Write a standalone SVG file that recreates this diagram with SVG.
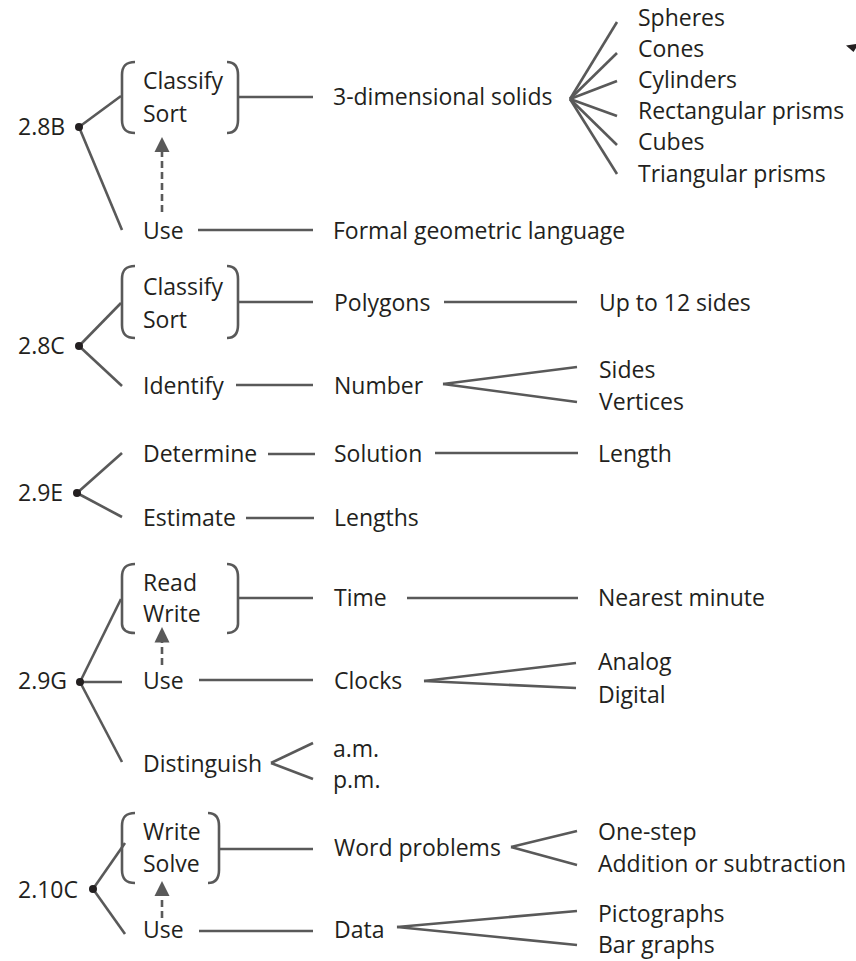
<svg xmlns="http://www.w3.org/2000/svg" width="856" height="961" viewBox="0 0 856 961">
<defs>
<style>
text{font-family:"Open Sans","Liberation Sans",sans-serif;font-size:23px;fill:#231f20}
.ln{stroke:#595959;stroke-width:2.6;fill:none}
.br{stroke:#595959;stroke-width:2.6;fill:none}
.dash{stroke:#595959;stroke-width:2.6;fill:none;stroke-dasharray:7,4}
.dot{fill:#231f20}
.ah{fill:#595959}
</style>
</defs>
<rect width="856" height="961" fill="#ffffff"/>

<g id="connectors">
<!-- 2.8B -->
<line class="ln" x1="79" y1="127" x2="121" y2="96"/>
<line class="ln" x1="79" y1="127" x2="122" y2="230"/>
<line class="ln" x1="238" y1="97" x2="313" y2="97"/>
<line class="ln" x1="198" y1="230" x2="313" y2="230"/>
<line class="ln" x1="570" y1="99" x2="617" y2="22"/>
<line class="ln" x1="570" y1="99" x2="617" y2="53"/>
<line class="ln" x1="570" y1="99" x2="617" y2="81"/>
<line class="ln" x1="570" y1="99" x2="617" y2="116"/>
<line class="ln" x1="570" y1="99" x2="617" y2="145"/>
<line class="ln" x1="570" y1="99" x2="617" y2="174"/>
<line class="dash" x1="162" y1="212" x2="162" y2="151"/>
<polygon class="ah" points="162,137 154.5,152 169.5,152"/>
<!-- 2.8C -->
<line class="ln" x1="79" y1="346" x2="121" y2="303"/>
<line class="ln" x1="79" y1="346" x2="122" y2="386"/>
<line class="ln" x1="238" y1="302" x2="313" y2="302"/>
<line class="ln" x1="444" y1="302" x2="577" y2="302"/>
<line class="ln" x1="236" y1="385" x2="313" y2="385"/>
<line class="ln" x1="577" y1="367" x2="443" y2="384"/>
<line class="ln" x1="443" y1="384" x2="577" y2="402"/>
<!-- 2.9E -->
<line class="ln" x1="77" y1="493" x2="122" y2="453"/>
<line class="ln" x1="77" y1="493" x2="122" y2="517"/>
<line class="ln" x1="268" y1="454" x2="315" y2="454"/>
<line class="ln" x1="435" y1="453" x2="578" y2="453"/>
<line class="ln" x1="246" y1="518" x2="314" y2="518"/>
<!-- 2.9G -->
<line class="ln" x1="80" y1="682" x2="121" y2="599"/>
<line class="ln" x1="80" y1="682" x2="122" y2="682"/>
<line class="ln" x1="80" y1="682" x2="122" y2="762"/>
<line class="ln" x1="238" y1="598" x2="313" y2="598"/>
<line class="ln" x1="407" y1="598" x2="578" y2="598"/>
<line class="ln" x1="199" y1="680" x2="313" y2="680"/>
<line class="ln" x1="576" y1="663" x2="424" y2="681"/>
<line class="ln" x1="424" y1="681" x2="576" y2="688"/>
<line class="ln" x1="313" y1="743" x2="271" y2="763"/>
<line class="ln" x1="271" y1="763" x2="313" y2="779"/>
<line class="dash" x1="162" y1="665" x2="162" y2="642"/>
<polygon class="ah" points="162,627 154.5,642.5 169.5,642.5"/>
<!-- 2.10C -->
<line class="ln" x1="93" y1="889" x2="125" y2="843"/>
<line class="ln" x1="93" y1="889" x2="125" y2="934"/>
<line class="ln" x1="219" y1="849" x2="313" y2="849"/>
<line class="ln" x1="199" y1="931" x2="313" y2="931"/>
<line class="ln" x1="577" y1="831" x2="511" y2="847"/>
<line class="ln" x1="511" y1="847" x2="577" y2="865"/>
<line class="ln" x1="577" y1="911" x2="397" y2="927"/>
<line class="ln" x1="397" y1="927" x2="577" y2="945"/>
<line class="dash" x1="162" y1="918" x2="162" y2="896"/>
<polygon class="ah" points="162,881 154.5,896 169.5,896"/>
</g>

<g id="stray-mark">
<polygon points="846,45.5 856,44 856,48 853.5,52" fill="#231f20"/>
</g>

<!-- 2.8B -->
<g id="n-2-8B"><text x="18" y="135">2.8B</text><circle class="dot" cx="79" cy="127" r="4"/></g>
<g id="n-classify-sort-1">
<path class="br" d="M135,62 C126,62 122,66 122,75 V120 C122,129 126,133 135,133"/>
<path class="br" d="M227,62 C234,62 238,66 238,75 V120 C238,129 234,133 227,133"/>
<text x="143" y="89">Classify</text><text x="143" y="121.5">Sort</text>
</g>
<g id="n-use-1"><text x="143" y="239">Use</text></g>
<g id="n-3d-solids"><text x="333" y="105">3-dimensional solids</text></g>
<g id="n-formal"><text x="333" y="239">Formal geometric language</text></g>
<g id="n-solids-list">
<text x="638" y="25.5">Spheres</text>
<text x="638" y="56.5">Cones</text>
<text x="638" y="87.5">Cylinders</text>
<text x="638" y="119">Rectangular prisms</text>
<text x="638" y="150">Cubes</text>
<text x="638" y="181.5">Triangular prisms</text>
</g>

<!-- 2.8C -->
<g id="n-2-8C"><text x="18" y="353.5">2.8C</text><circle class="dot" cx="79" cy="346" r="4"/></g>
<g id="n-classify-sort-2">
<path class="br" d="M135,266 C126,266 122,270 122,279 V325 C122,334 126,338 135,338"/>
<path class="br" d="M227,266 C234,266 238,270 238,279 V325 C238,334 234,338 227,338"/>
<text x="143" y="295">Classify</text><text x="143" y="327.5">Sort</text>
</g>
<g id="n-identify"><text x="143" y="394">Identify</text></g>
<g id="n-polygons"><text x="334" y="311">Polygons</text></g>
<g id="n-up-to-12"><text x="599" y="311">Up to 12 sides</text></g>
<g id="n-number"><text x="334" y="394">Number</text></g>
<g id="n-sides-vertices"><text x="599" y="378">Sides</text><text x="599" y="410">Vertices</text></g>

<!-- 2.9E -->
<g id="n-2-9E"><text x="18" y="500.5">2.9E</text><circle class="dot" cx="77" cy="493" r="4"/></g>
<g id="n-determine"><text x="143" y="461.5">Determine</text></g>
<g id="n-estimate"><text x="143" y="526">Estimate</text></g>
<g id="n-solution"><text x="334" y="461.5">Solution</text></g>
<g id="n-length"><text x="598" y="461.5">Length</text></g>
<g id="n-lengths"><text x="334" y="526">Lengths</text></g>

<!-- 2.9G -->
<g id="n-2-9G"><text x="18" y="689">2.9G</text><circle class="dot" cx="80" cy="682" r="4"/></g>
<g id="n-read-write">
<path class="br" d="M135,564 C126,564 122,568 122,577 V624 C122,629 126,633 135,633"/>
<path class="br" d="M227,564 C234,564 238,568 238,577 V624 C238,629 234,633 227,633"/>
<text x="143" y="590.5">Read</text><text x="143" y="621.5">Write</text>
</g>
<g id="n-use-2"><text x="143" y="688.5">Use</text></g>
<g id="n-distinguish"><text x="143" y="771.5">Distinguish</text></g>
<g id="n-time"><text x="334" y="606">Time</text></g>
<g id="n-nearest"><text x="598" y="606">Nearest minute</text></g>
<g id="n-clocks"><text x="334" y="688.5">Clocks</text></g>
<g id="n-analog-digital"><text x="598" y="670">Analog</text><text x="598" y="703">Digital</text></g>
<g id="n-am-pm"><text x="333" y="756.5">a.m.</text><text x="333" y="788">p.m.</text></g>

<!-- 2.10C -->
<g id="n-2-10C"><text x="18" y="898">2.10C</text><circle class="dot" cx="93" cy="889" r="4"/></g>
<g id="n-write-solve">
<path class="br" d="M135,813 C126,813 122,817 122,826 V870 C122,879 126,883 135,883"/>
<path class="br" d="M208,813 C215,813 219,817 219,826 V870 C219,879 215,883 208,883"/>
<text x="143" y="840">Write</text><text x="143" y="871.5">Solve</text>
</g>
<g id="n-use-3"><text x="143" y="938">Use</text></g>
<g id="n-word-problems"><text x="334" y="856">Word problems</text></g>
<g id="n-data"><text x="334" y="938">Data</text></g>
<g id="n-onestep"><text x="598" y="840">One-step</text><text x="598" y="871.5">Addition or subtraction</text></g>
<g id="n-graphs"><text x="598" y="921.5">Pictographs</text><text x="598" y="953">Bar graphs</text></g>
</svg>
